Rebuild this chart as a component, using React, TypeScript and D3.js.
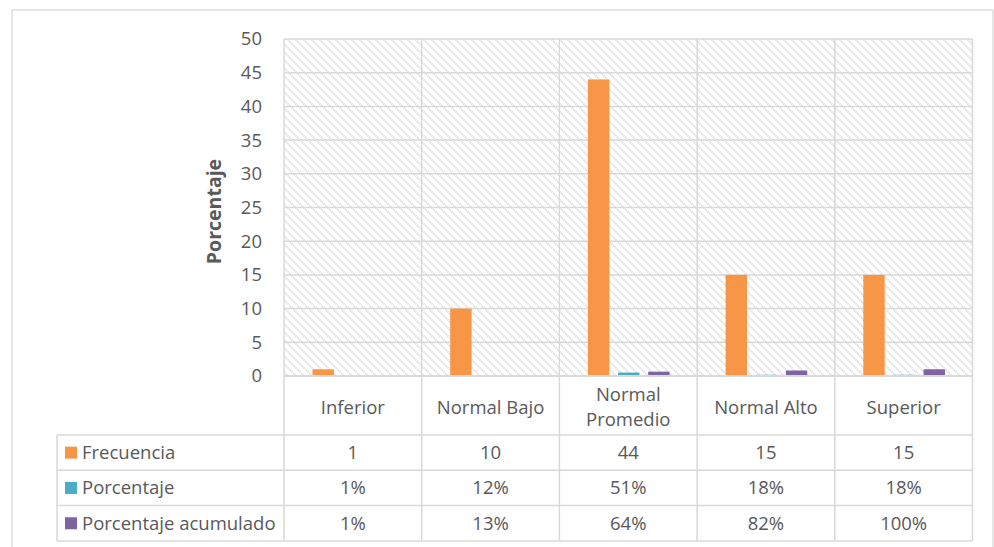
import React from "react";
import * as d3 from "d3";

const categories = ["Inferior", "Normal Bajo", "Normal Promedio", "Normal Alto", "Superior"];
const seriesNames = ["Frecuencia", "Porcentaje", "Porcentaje acumulado"];
const frecuencia = [1, 10, 44, 15, 15];
const porcentaje = [0.01, 0.12, 0.51, 0.18, 0.18];
const acumulado = [0.01, 0.13, 0.64, 0.82, 1.0];
const yMax = 50;
const yTickStep = 5;
const axisTitle = "Porcentaje";

const colors = ["#F79646", "#4BACC6", "#8064A2"];
const FONT = "'Open Sans', sans-serif";
const FS = 18.5;
const TEXT = "#595959";
const GRID = "#d9d9d9";

function measure(text: string, size: number, weight = "normal") {
  const c = document.createElement("canvas").getContext("2d");
  if (!c) return text.length * size * 0.5;
  c.font = `${weight} ${size}px 'Open Sans'`;
  return c.measureText(text).width;
}

function wrap(text: string, maxW: number): string[] {
  if (measure(text, FS) <= maxW) return [text];
  const words = text.split(" ");
  const lines: string[] = [];
  let cur = "";
  words.forEach((w) => {
    const t = cur ? cur + " " + w : w;
    if (cur && measure(t, FS) > maxW) {
      lines.push(cur);
      cur = w;
    } else cur = t;
  });
  if (cur) lines.push(cur);
  return lines;
}

export default function App() {
  const W = 994, H = 547;
  const plotLeft = 284, plotRight = 972.5, plotTop = 39, plotBottom = 376;
  const tableLeft = 57;
  const catRowBottom = 435;
  const rowH = 35.3;

  const x = d3.scaleBand<string>().domain(categories).range([plotLeft, plotRight]);
  const bw = x.bandwidth();
  const inner = d3
    .scaleBand<string>()
    .domain(seriesNames)
    .range([bw * 0.207, bw * 0.8])
    .paddingInner(0.29);
  const y = d3.scaleLinear().domain([0, yMax]).range([plotBottom, plotTop]);
  const ticks = d3.range(0, yMax + yTickStep, yTickStep);

  const seriesData = [frecuencia, porcentaje, acumulado];
  const fmtInt = d3.format("d");
  const fmtPct = d3.format(".0%");
  const fmts = [fmtInt, fmtPct, fmtPct];

  const rowTops = seriesNames.map((_, i) => catRowBottom + i * rowH);
  const tableBottom = catRowBottom + seriesNames.length * rowH;

  return (
    <svg
      width={W}
      height={H}
      style={{ position: "absolute", left: 0, top: 0, background: "#fff" }}
      fontFamily={FONT}
    >
      <defs>
        <pattern id="hatch" patternUnits="userSpaceOnUse" width={8} height={8}>
          <rect width={8} height={8} fill="#fff" />
          <path
            d="M-2,-2 L10,10 M-2,6 L2,10 M6,-2 L10,2"
            stroke="#d6d6d6"
            strokeWidth={1.6}
            strokeDasharray="1.2 0.8"
          />
        </pattern>
      </defs>
      <rect x={12} y={10} width={981} height={560} fill="#fff" stroke={GRID} strokeWidth={1.3} />

      {/* plot background */}
      <rect x={plotLeft} y={plotTop} width={plotRight - plotLeft} height={plotBottom - plotTop} fill="url(#hatch)" />

      {/* gridlines */}
      {ticks.map((t) => (
        <line key={t} x1={plotLeft} x2={plotRight} y1={y(t)} y2={y(t)} stroke={GRID} strokeWidth={1.5} />
      ))}

      {/* bars */}
      {seriesData.map((vals, si) =>
        vals.map((v, ci) => (
          <rect
            key={`${si}-${ci}`}
            x={(x(categories[ci]) as number) + (inner(seriesNames[si]) as number)}
            y={y(v)}
            width={inner.bandwidth()}
            height={plotBottom - y(v)}
            fill={colors[si]}
          />
        ))
      )}

      {/* baseline over bars */}
      <line x1={plotLeft} x2={plotRight} y1={y(0)} y2={y(0)} stroke={GRID} strokeWidth={1.8} />

      {/* vertical category lines */}
      {[...categories.map((c) => x(c) as number), plotRight].map((xx, i) => (
        <line key={i} x1={xx} x2={xx} y1={plotTop} y2={tableBottom} stroke={GRID} strokeWidth={1.5} />
      ))}
      {/* table horizontal lines */}
      {[...rowTops, tableBottom].map((yy, i) => (
        <line key={i} x1={tableLeft} x2={plotRight} y1={yy} y2={yy} stroke={GRID} strokeWidth={1.5} />
      ))}
      <line x1={tableLeft} x2={tableLeft} y1={catRowBottom} y2={tableBottom} stroke={GRID} strokeWidth={1.5} />

      {/* y tick labels */}
      {ticks.map((t) => (
        <text key={t} x={262} y={y(t)} dy="0.35em" textAnchor="end" fontSize={FS} fill={TEXT}>
          {t}
        </text>
      ))}

      {/* axis title */}
      <text
        transform={`translate(221, ${(plotTop + plotBottom) / 2 + 4}) rotate(-90)`}
        textAnchor="middle"
        fontSize={19.5}
        fontWeight="bold"
        fill={TEXT}
      >
        {axisTitle}
      </text>

      {/* category labels */}
      {categories.map((c) => {
        const lines = wrap(c, bw - 12);
        const cy = (plotBottom + catRowBottom) / 2 + 2;
        const lh = 25;
        return (
          <text key={c} textAnchor="middle" fontSize={FS} fill={TEXT}>
            {lines.map((l, i) => (
              <tspan
                key={i}
                x={(x(c) as number) + bw / 2}
                y={cy + (i - (lines.length - 1) / 2) * lh}
                dy="0.35em"
              >
                {l}
              </tspan>
            ))}
          </text>
        );
      })}

      {/* table rows */}
      {seriesNames.map((s, si) => {
        const cy = rowTops[si] + rowH / 2;
        return (
          <g key={s}>
            <rect x={65} y={cy - 6} width={12} height={12} fill={colors[si]} />
            <text x={82} y={cy} dy="0.35em" fontSize={FS} fill={TEXT}>
              {s}
            </text>
            {seriesData[si].map((v, ci) => (
              <text
                key={ci}
                x={(x(categories[ci]) as number) + bw / 2}
                y={cy}
                dy="0.35em"
                textAnchor="middle"
                fontSize={FS}
                fill={TEXT}
              >
                {fmts[si](v)}
              </text>
            ))}
          </g>
        );
      })}
    </svg>
  );
}
